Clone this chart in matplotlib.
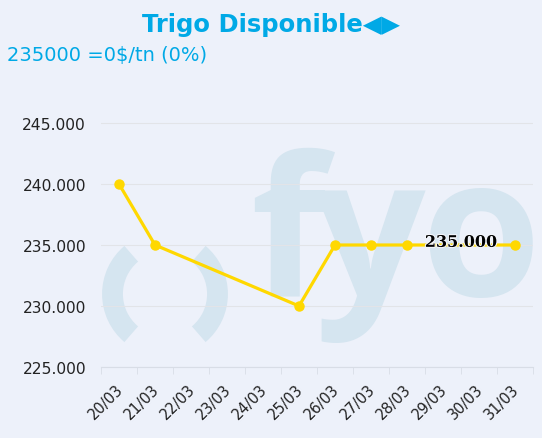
import numpy as np
import matplotlib.pyplot as plt
import matplotlib.transforms as mtransforms
import matplotlib.patheffects as pe
from matplotlib.patches import Arc

# category labels and prices (None = no quote that day)
dates = ['20/03', '21/03', '22/03', '23/03', '24/03', '25/03',
         '26/03', '27/03', '28/03', '29/03', '30/03', '31/03']
prices = [240000, 235000, None, None, None, 230000,
          235000, 235000, 235000, None, None, 235000]
y_ticks = [225000, 230000, 235000, 240000, 245000]
last_label = '235.000'

W, H = 542, 439
bg = '#edf1fa'
cyan = '#00a9e6'
wm = '#d5e5f0'

fig = plt.figure(figsize=(W / 100, H / 100), dpi=100, facecolor=bg)

# watermark "( ) fyo" behind the plot, in pixel coords
wax = fig.add_axes([0, 0, 1, 1], facecolor=bg)
wax.set_xlim(0, W)
wax.set_ylim(H, 0)
wax.axis('off')
for t1, t2 in [(130, 230), (-50, 50)]:
    a = Arc((165, 295), 105, 105, theta1=t1, theta2=t2, color=wm, lw=15)
    a.set_capstyle('butt')
    wax.add_patch(a)
for ch, x0 in [('f', 250), ('y', 314), ('o', 420)]:
    wax.text(x0, 296, ch, fontsize=140, fontfamily='Open Sans', fontweight='bold',
             color=wm, ha='left', va='baseline')

ax = fig.add_axes([101 / W, 1 - 368 / H, 432 / W, 305 / H])
ax.patch.set_alpha(0)

idx = [i for i, v in enumerate(prices) if v is not None]
vals = [prices[i] for i in idx]
ax.plot(idx, vals, color='#ffd800', lw=2.3, marker='o', ms=6.5, zorder=3)

ax.text(9.5, 234850, last_label, fontfamily='DejaVu Serif', fontweight='bold',
        fontsize=11.5, color='black', ha='center', va='baseline', zorder=4,
        path_effects=[pe.withStroke(linewidth=1.5, foreground='#f4f6fb')])

ax.set_xlim(-0.5, len(dates) - 0.5)
ax.set_ylim(225000, 250000)
ax.set_yticks(y_ticks)
ax.set_yticklabels([f'{v:,}'.replace(',', '.') for v in y_ticks])
ax.set_xticks(range(len(dates)))
ax.set_xticklabels(dates, rotation=45, ha='right', rotation_mode='anchor')
ax.set_xticks(np.arange(-0.5, len(dates)), minor=True)
ax.tick_params(axis='x', which='major', length=0, pad=10, labelsize=10.5, labelcolor='#222222')
ax.tick_params(axis='x', which='minor', length=5, color='#d8dde6')
ax.tick_params(axis='y', length=0, pad=10.8, labelsize=11.2, labelcolor='#222222')
off = mtransforms.ScaledTranslation(-4 / 100, 0, fig.dpi_scale_trans)
for lab in ax.get_xticklabels():
    lab.set_transform(lab.get_transform() + off)
ax.grid(axis='y', color='#e2e4e8', lw=0.8)
for s in ['top', 'right', 'left']:
    ax.spines[s].set_visible(False)
ax.spines['bottom'].set_color('#d8dde6')

fig.text(0.5, 1 - 25 / H, 'Trigo Disponible◀▶', fontsize=17.5, fontweight='bold',
         color=cyan, ha='center', va='center')
fig.text(7 / W, 1 - 56 / H, '235000 =0$/tn (0%)', fontsize=14, color=cyan,
         ha='left', va='center')

fig.savefig('out.png', dpi=100, facecolor=bg)
